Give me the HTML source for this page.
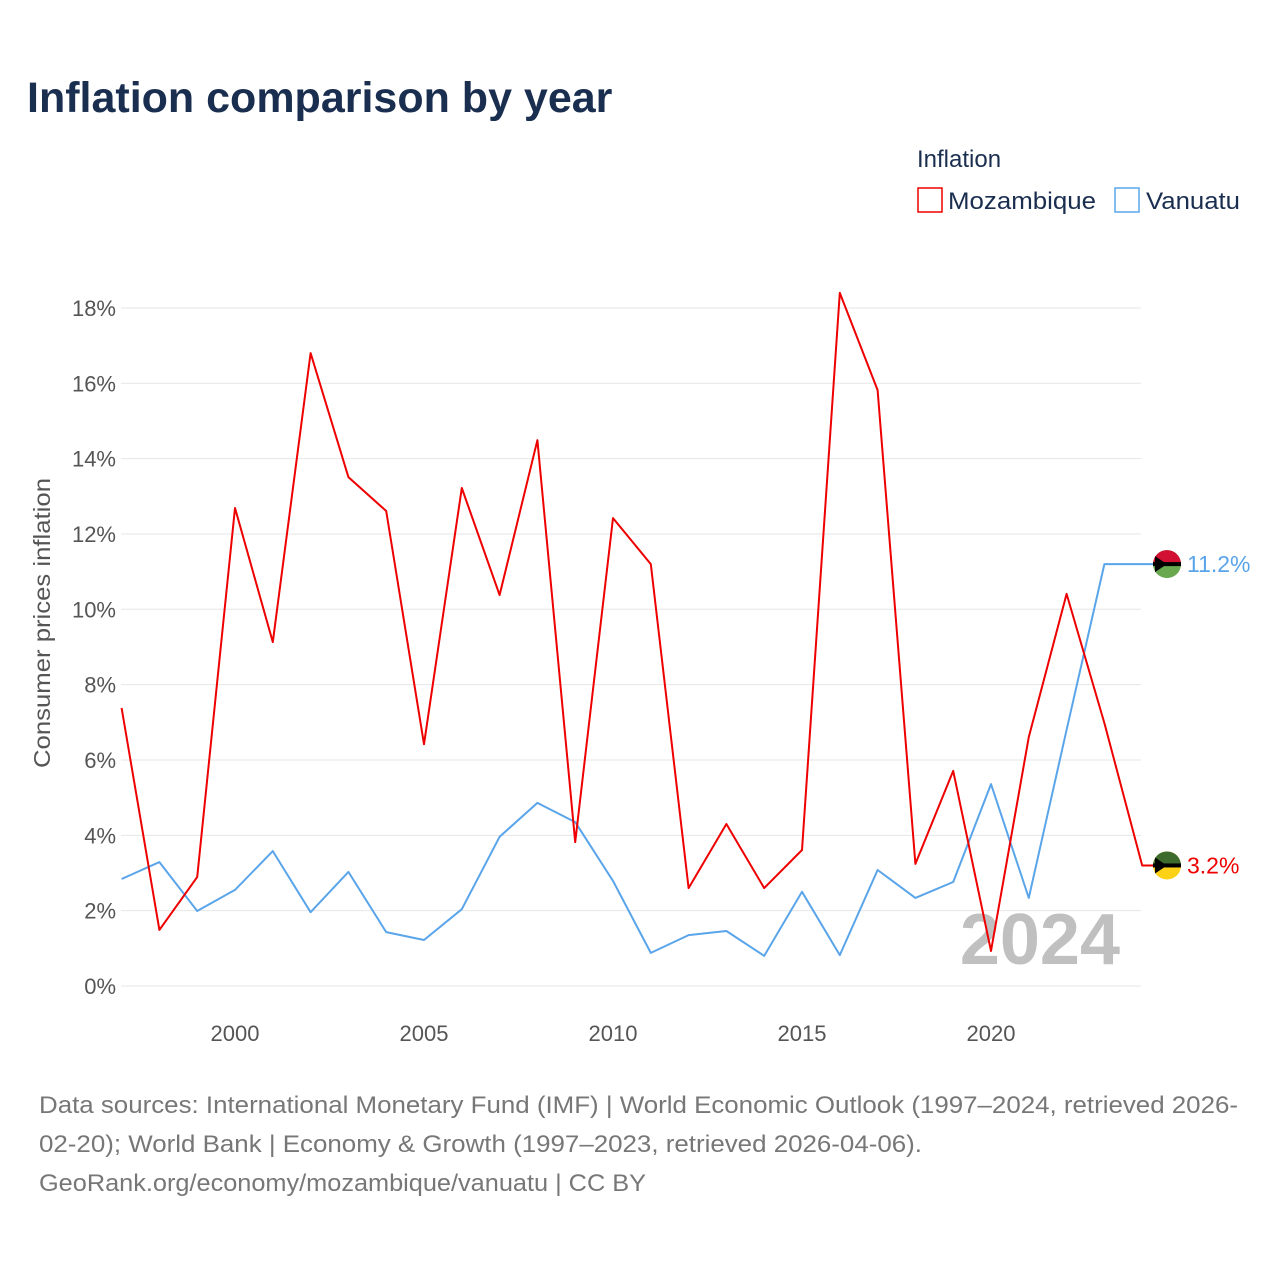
<!DOCTYPE html>
<html><head><meta charset="utf-8"><style>
body{margin:0;background:#fff;font-family:"Liberation Sans",sans-serif;}
#wrap{position:relative;width:1280px;height:1280px;overflow:hidden}
</style></head><body><div id="wrap">
<svg id="chart" width="1280" height="1280" xmlns="http://www.w3.org/2000/svg"></svg>
</div>
<script>
const years=[1997,1998,1999,2000,2001,2002,2003,2004,2005,2006,2007,2008,2009,2010,2011,2012,2013,2014,2015,2016,2017,2018,2019,2020,2021,2022,2023,2024];
const mozambique=[7.38,1.49,2.89,12.69,9.13,16.8,13.51,12.61,6.42,13.22,10.38,14.49,3.82,12.42,11.2,2.6,4.3,2.6,3.61,18.4,15.82,3.24,5.71,0.93,6.61,10.41,6.98,3.2];
const vanuatu=[2.84,3.29,1.99,2.55,3.58,1.96,3.03,1.43,1.22,2.04,3.96,4.86,4.35,2.79,0.88,1.35,1.46,0.8,2.5,0.82,3.08,2.34,2.76,5.36,2.34,6.8,11.2];
const yTicks=[0,2,4,6,8,10,12,14,16,18];
const xTicks=[2000,2005,2010,2015,2020];
const svg=document.getElementById('chart');
const NS='http://www.w3.org/2000/svg';
function x(yr){return 121.6+(yr-1997)*37.8;}
function y(v){return 986-v*37.67;}
function mk(t,a,txt){const e=document.createElementNS(NS,t);for(const k in a)e.setAttribute(k,a[k]);if(txt!==undefined)e.textContent=txt;svg.appendChild(e);return e;}
let e;
e=mk('text',{x:27,y:112,'font-size':43,'font-weight':'bold',fill:'#1a2e4f'},'Inflation comparison by year');


yTicks.forEach(t=>{
 e=mk('line',{x1:121,x2:1141,y1:y(t),y2:y(t),stroke:'#e6e6e6','stroke-width':1});
 
 
 e=mk('text',{x:116,y:y(t)+8,'font-size':22,fill:'#555','text-anchor':'end'},t+'%');
 
 
});
xTicks.forEach(t=>{
 e=mk('text',{x:x(t),y:1041,'font-size':22,fill:'#555','text-anchor':'middle'},String(t));
 
 
});
e=mk('text',{x:0,y:0,'font-size':23,fill:'#555','text-anchor':'middle',textLength:290,lengthAdjust:'spacingAndGlyphs',transform:'translate(50,623) rotate(-90)'},'Consumer prices inflation');


e=mk('text',{x:1120,y:964,'font-size':72,'font-weight':'bold',fill:'#c0c0c0','text-anchor':'end'},'2024');


function series(vals,color,name){
 let d=vals.map((v,i)=>(i?'L':'M')+x(years[i]).toFixed(1)+' '+y(v).toFixed(1)).join(' ');
 const last=vals[vals.length-1];
 d+=' L1158 '+y(last).toFixed(1);
 e=mk('path',{d:d,fill:'none',stroke:color,'stroke-width':2,'stroke-linejoin':'round'});
 
 
 return last;
}
const vl=series(vanuatu,'#5aa5ea','vanuatu');
const ml=series(mozambique,'#ee0000','mozambique');
function flag(cy,top,bot,name){
 e=mk('circle',{cx:1167,cy:cy,r:14,fill:bot});
 
 
 mk('path',{d:`M1153 ${cy} A14 14 0 0 1 1181 ${cy} Z`,fill:top});
 mk('rect',{x:1153,y:cy-2,width:28,height:4,fill:'#000'});
 mk('path',{d:`M1155 ${cy-8} L1167 ${cy} L1155 ${cy+8} Z`,fill:'#000'});
}
flag(y(vl),'#d21034','#6aa84f','vanuatu');
flag(y(ml),'#3d6b2d','#fcd116','mozambique');
e=mk('text',{x:1187,y:y(vl)+8,'font-size':23,fill:'#5aa5ea'},vl.toFixed(1)+'%');


e=mk('text',{x:1187,y:y(ml)+8,'font-size':23,fill:'#ee0000'},ml.toFixed(1)+'%');


e=mk('text',{x:917,y:167,'font-size':24,fill:'#1a2e4f'},'Inflation');


e=mk('rect',{x:918,y:188,width:24,height:24,fill:'none',stroke:'#ee0000','stroke-width':1.5});


e=mk('text',{x:948,y:209,'font-size':24,fill:'#1a2e4f',textLength:148,lengthAdjust:'spacingAndGlyphs'},'Mozambique');


e=mk('rect',{x:1115,y:188,width:24,height:24,fill:'none',stroke:'#5aa5ea','stroke-width':1.5});


e=mk('text',{x:1146,y:209,'font-size':24,fill:'#1a2e4f',textLength:94,lengthAdjust:'spacingAndGlyphs'},'Vanuatu');


const srcW=[1199,883,607];
['Data sources: International Monetary Fund (IMF) | World Economic Outlook (1997–2024, retrieved 2026-','02-20); World Bank | Economy & Growth (1997–2023, retrieved 2026-04-06).','GeoRank.org/economy/mozambique/vanuatu | CC BY'].forEach((l,i)=>{
 e=mk('text',{x:39,y:1113+i*39,'font-size':24,fill:'#777',textLength:srcW[i],lengthAdjust:'spacingAndGlyphs'},l);
 
 
});
</script></body></html>
